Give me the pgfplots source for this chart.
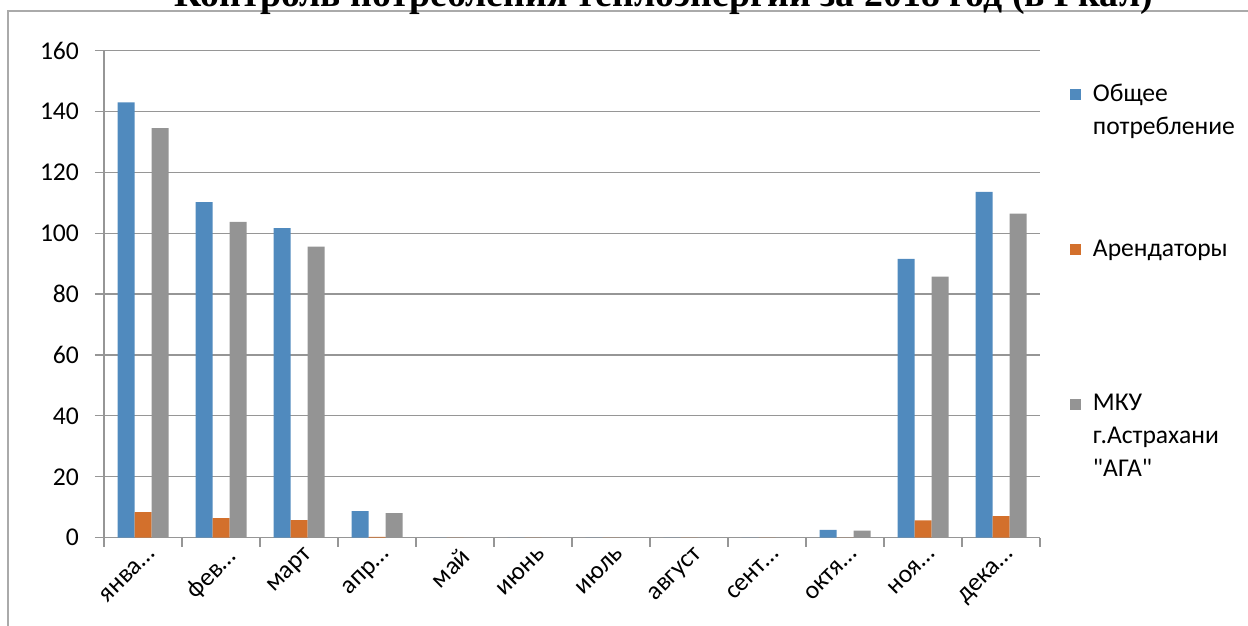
\documentclass[border=0pt]{standalone}
\usepackage{fontspec}
\setmainfont{Carlito}[Ligatures=TeXReset]
\newfontfamily\titlefont{Liberation Serif}
\usepackage{pgfplots}
\pgfplotsset{compat=1.18}
\definecolor{cblue}{RGB}{80,138,190}
\definecolor{corange}{RGB}{211,112,44}
\definecolor{cgray}{RGB}{148,148,148}
\definecolor{gridc}{RGB}{150,150,150}
\definecolor{framec}{RGB}{170,170,170}
\newcommand\lab{\fontsize{12.8}{16.5}\selectfont}
\newcommand\legbox[1]{\parbox[t]{75pt}{\raggedright\strut #1}}
\begin{document}
\begin{tikzpicture}
\useasboundingbox (0,0) rectangle (624pt,313pt);
\draw[framec, line width=0.6pt] (4pt,-5pt) -- (4pt,307.5pt) -- (630pt,307.5pt);
\node[anchor=base, inner sep=0pt] at (332pt,309.5pt) {\resizebox{489pt}{!}{\titlefont\bfseries Контроль потребления теплоэнергии за 2018 год (в Гкал)}};
\begin{axis}[
  at={(52pt,44.15pt)}, anchor=south west, scale only axis,
  width=468pt, height=243.6pt,
  xmin=-0.5, xmax=11.5, ymin=0, ymax=160,
  ybar=0pt, bar width=8.5pt,
  axis x line*=bottom, axis y line*=left,
  axis line style={gridc, line width=0.6pt, -},
  ymajorgrids, grid style={gridc, line width=0.6pt},
  ytick={0,20,...,160},
  tick align=outside, major tick length=4.5pt,
  tick style={gridc, line width=0.6pt},
  xtick={-0.5,0.5,...,11.5}, xticklabels={},
  extra x ticks={0,1,2,3,4,5,6,7,8,9,10,11},
  extra x tick labels={янва…,фев…,март,апр…,май,июнь,июль,август,сент…,октя…,ноя…,дека…},
  extra x tick style={major tick length=0pt, xticklabel style={rotate=45, anchor=north east, xshift=2pt, yshift=-1pt}},
  tick label style={font=\lab},
  yticklabel style={xshift=-4.5pt},
  /pgf/number format/assume math mode=true,
  legend style={at={(axis description cs:1.032,0.9428)}, anchor=north west, draw=none, fill=none,
    row sep=64.25pt, inner sep=0pt, outer sep=0pt, font=\lab,
    nodes={inner sep=0pt}, cells={anchor=base west},
    /tikz/every odd column/.append style={column sep=6pt}},
  legend image code/.code={\fill[#1,draw=none] (0pt,0.5pt) rectangle (5.5pt,6pt);},
]
\addplot[fill=cblue, draw=none] coordinates {(0,143.0) (1,110.2) (2,101.7) (3,8.7) (4,0) (5,0) (6,0) (7,0) (8,0) (9,2.6) (10,91.6) (11,113.6)};
\addlegendentry{\legbox{Общее\par потребление}}
\addplot[fill=corange, draw=none] coordinates {(0,8.4) (1,6.4) (2,5.8) (3,0.3) (4,0) (5,0) (6,0) (7,0) (8,0) (9,0) (10,5.7) (11,7.1)};
\addlegendentry{\legbox{Арендаторы}}
\addplot[fill=cgray, draw=none] coordinates {(0,134.5) (1,103.7) (2,95.6) (3,8.1) (4,0) (5,0) (6,0) (7,0) (8,0) (9,2.3) (10,85.7) (11,106.4)};
\addlegendentry{\legbox{МКУ\par г.Астрахани\par "АГА"}}
\end{axis}
\end{tikzpicture}
\end{document}
